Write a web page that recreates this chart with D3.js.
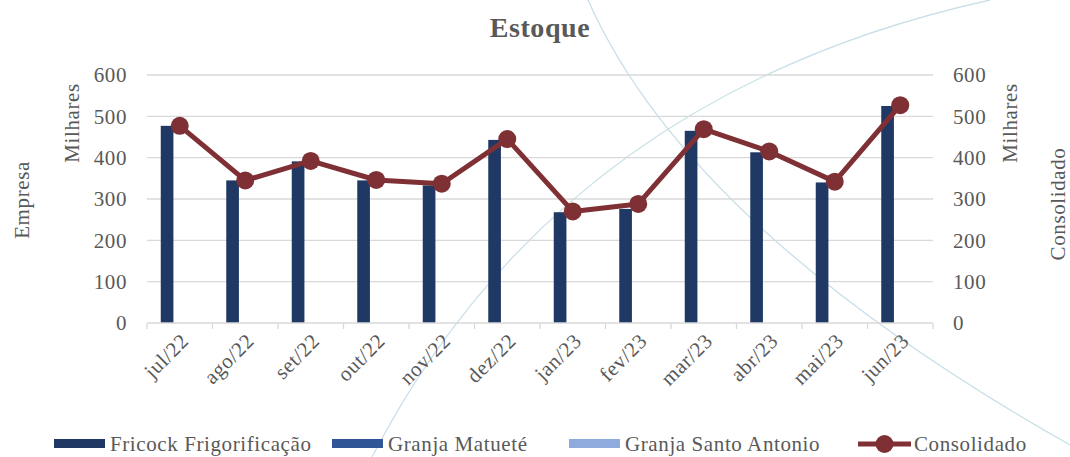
<!DOCTYPE html>
<html>
<head>
<meta charset="utf-8">
<script src="https://cdn.jsdelivr.net/npm/d3@7"></script>
<style>
  body { margin: 0; background: #fff; }
  text { font-family: "Liberation Serif", serif; fill: #595959; letter-spacing: 0.6px; }
</style>
</head>
<body>
<div id="chart"></div>
<script>
const months = ['jul/22','ago/22','set/22','out/22','nov/22','dez/22','jan/23','fev/23','mar/23','abr/23','mai/23','jun/23'];
const fricock = [477, 345, 391, 345, 333, 443, 268, 276, 465, 413, 340, 525];
const matuete = [0, 0, 0, 0, 0, 0, 0, 0, 0, 0, 0, 0];
const santoAntonio = [0, 0, 0, 0, 0, 0, 0, 0, 0, 0, 0, 0];
const consolidado = [477, 345, 392, 346, 337, 445, 270, 288, 469, 415, 342, 527];
const yTicks = [0, 100, 200, 300, 400, 500, 600];

const barSeries = [
  {name: 'Fricock Frigorificação', values: fricock, color: '#1f3864'},
  {name: 'Granja Matueté', values: matuete, color: '#2f5597'},
  {name: 'Granja Santo Antonio', values: santoAntonio, color: '#8faadc'}
];
const lineColor = '#7f3035';
const fs = '21px';

const W = 1070, H = 457;
const margin = {top: 75, right: 137, bottom: 134, left: 147};
const width = W - margin.left - margin.right,
      height = H - margin.top - margin.bottom;

const svg = d3.select('#chart').append('svg')
    .attr('width', W)
    .attr('height', H);

// faint decorative arcs in the background
const deco = svg.append('g').attr('fill', 'none').attr('stroke', '#c9dfe8').attr('stroke-width', 1.3);
deco.append('path').attr('d', 'M588,0 Q690,230 1070,445');
deco.append('path').attr('d', 'M372,457 Q560,95 990,0');

const x = d3.scaleBand().domain(months).range([0, width]).paddingInner(0).paddingOuter(0);
const x1 = d3.scaleBand().domain(barSeries.map(d => d.name)).range([x.bandwidth() * 0.21, x.bandwidth() * 0.79]);
const yL = d3.scaleLinear().domain([0, 600]).range([height, 0]);
const yR = d3.scaleLinear().domain([0, 600]).range([height, 0]);

const g = svg.append('g').attr('transform', `translate(${margin.left},${margin.top})`);

// gridlines
g.append('g').selectAll('line').data(yTicks.filter(t => t > 0)).join('line')
    .attr('x1', 0).attr('x2', width)
    .attr('y1', d => yL(d)).attr('y2', d => yL(d))
    .attr('stroke', '#d9d9d9').attr('stroke-width', 1.3);

// bars
barSeries.forEach(s => {
  g.append('g').selectAll('rect').data(s.values).join('rect')
      .attr('x', (d, i) => x(months[i]) + x1(s.name))
      .attr('y', d => yL(d))
      .attr('width', x1.bandwidth())
      .attr('height', d => height - yL(d))
      .attr('fill', s.color);
});

// x axis
const xAxis = g.append('g').attr('transform', `translate(0,${height})`);
xAxis.append('line').attr('x1', 0).attr('x2', width).attr('stroke', '#d9d9d9').attr('stroke-width', 1.3);
xAxis.selectAll('.tk').data(d3.range(months.length + 1)).join('line')
    .attr('x1', i => i * x.step()).attr('x2', i => i * x.step())
    .attr('y1', 0).attr('y2', 6)
    .attr('stroke', '#d9d9d9').attr('stroke-width', 1.3);
xAxis.selectAll('.lbl').data(months).join('text')
    .attr('transform', d => `translate(${x(d) + x.bandwidth() / 2 + 5},${14}) rotate(-45)`)
    .attr('text-anchor', 'end')
    .attr('dy', '0.35em')
    .style('font-size', fs)
    .text(d => d);

// y axis labels
g.append('g').selectAll('text').data(yTicks).join('text')
    .attr('x', -20).attr('y', d => yL(d)).attr('dy', '0.35em')
    .attr('text-anchor', 'end').style('font-size', fs)
    .text(d => d);
g.append('g').selectAll('text').data(yTicks).join('text')
    .attr('x', width + 20).attr('y', d => yR(d)).attr('dy', '0.35em')
    .attr('text-anchor', 'start').style('font-size', fs)
    .text(d => d);

// line
const line = d3.line().x((d, i) => x(months[i]) + x.bandwidth() / 2).y(d => yR(d));
g.append('path').datum(consolidado)
    .attr('d', line).attr('fill', 'none')
    .attr('stroke', lineColor).attr('stroke-width', 5).attr('stroke-linejoin', 'round');
g.append('g').selectAll('circle').data(consolidado).join('circle')
    .attr('cx', (d, i) => x(months[i]) + x.bandwidth() / 2)
    .attr('cy', d => yR(d))
    .attr('r', 9)
    .attr('fill', lineColor);

// titles
svg.append('text').attr('x', 540).attr('y', 37).attr('text-anchor', 'middle')
    .style('font-size', '28px').style('font-weight', 'bold').text('Estoque');
svg.append('text').attr('transform', 'translate(79,123) rotate(-90)')
    .attr('text-anchor', 'middle').style('font-size', fs).text('Milhares');
svg.append('text').attr('transform', 'translate(29,200) rotate(-90)')
    .attr('text-anchor', 'middle').style('font-size', fs).text('Empresa');
svg.append('text').attr('transform', 'translate(1017,123) rotate(-90)')
    .attr('text-anchor', 'middle').style('font-size', fs).text('Milhares');
svg.append('text').attr('transform', 'translate(1065,204) rotate(-90)')
    .attr('text-anchor', 'middle').style('font-size', fs).text('Consolidado');

// legend
const legend = svg.append('g').attr('transform', 'translate(0,444)');
const legendX = [54, 332, 569];
barSeries.forEach((s, i) => {
  legend.append('rect').attr('x', legendX[i]).attr('y', -5).attr('width', 51).attr('height', 9).attr('fill', s.color);
  legend.append('text').attr('x', legendX[i] + 56).attr('y', 0).attr('dy', '0.35em')
      .style('font-size', fs).text(s.name);
});
legend.append('line').attr('x1', 858).attr('x2', 911).attr('y1', 0).attr('y2', 0)
    .attr('stroke', lineColor).attr('stroke-width', 5);
legend.append('circle').attr('cx', 884.5).attr('cy', 0).attr('r', 9).attr('fill', lineColor);
legend.append('text').attr('x', 914).attr('y', 0).attr('dy', '0.35em')
    .style('font-size', fs).text('Consolidado');
</script>
</body>
</html>
